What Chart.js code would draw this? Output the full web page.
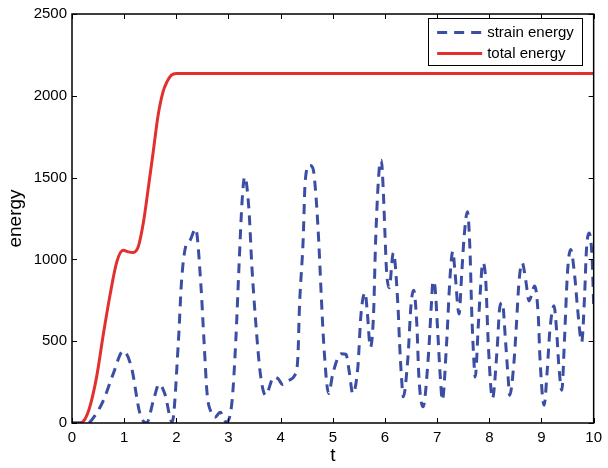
<!DOCTYPE html>
<html>
<head>
<meta charset="utf-8">
<script src="https://cdn.jsdelivr.net/npm/chart.js@4.4.1/dist/chart.umd.min.js"></script>
<style>
html,body{margin:0;padding:0;background:#fff;}
canvas{display:block;}
</style>
</head>
<body>
<canvas id="c" width="608" height="468"></canvas>
<script>
// ---- data ----
const strainT = [0,0.3,0.45,0.6,0.79,0.98,1.14,1.3,1.43,1.56,1.67,1.78,1.92,2.04,2.10,2.18,2.26,2.37,2.47,2.53,2.59,2.66,2.74,2.84,2.96,
  3.07,3.14,3.2,3.26,3.31,3.39,3.45,3.52,3.61,3.71,3.87,3.95,4.04,4.15,4.27,4.33,4.36,4.43,4.47,4.55,4.62,4.68,4.73,4.78,4.83,4.92,
  5.0,5.16,5.25,5.32,5.38,5.48,5.54,5.62,5.66,5.72,5.78,5.82,5.89,5.93,5.97,6.0,6.03,6.08,6.16,6.25,6.28,6.32,6.35,6.44,6.5,6.55,6.61,6.65,6.73,
  6.83,6.89,6.92,6.96,7.01,7.06,7.1,7.18,7.25,7.30,7.34,7.42,7.47,7.52,7.58,7.63,7.66,7.7,7.73,7.79,7.84,7.87,7.93,7.98,
  8.06,8.15,8.2,8.25,8.31,8.36,8.39,8.47,8.52,8.57,8.63,8.7,8.76,8.87,8.94,8.97,9.05,9.11,9.16,9.24,9.29,9.33,9.39,9.44,9.5,9.56,9.64,9.69,9.77,9.83,9.86,9.91,9.97,10.0];
const strainE = [0,0,50,137,300,440,340,60,0,137,238,178,5,500,868,1080,1115,1187,848,504,180,70,35,65,5,
  140,504,948,1353,1505,1313,948,625,302,170,281,271,235,260,291,402,706,1110,1475,1576,1556,1373,1110,766,463,180,
  302,423,420,302,180,342,666,797,680,463,660,1110,1556,1606,1400,1151,928,827,1040,706,485,261,160,402,726,811,605,281,99,
  402,730,868,827,564,281,140,484,908,1050,930,666,908,1151,1292,1050,706,402,281,605,868,979,880,484,
  150,453,706,736,504,280,170,362,605,868,979,868,746,837,645,402,109,322,564,716,564,362,200,504,928,1060,888,706,494,807,1050,1161,1009,720];

const totalT = [0,0.15,0.25,0.34,0.47,0.6,0.73,0.86,0.98,1.08,1.17,1.27,1.37,1.46,1.56,1.65,1.75,1.82,1.9,2.0,10];
const totalE = [0,0,25,97,279,541,784,986,1056,1046,1042,1077,1228,1430,1665,1880,2030,2085,2125,2137,2137];

const xTicks = [0,1,2,3,4,5,6,7,8,9,10];
const yTicks = [0,500,1000,1500,2000,2500];
const seriesNames = ['strain energy','total energy'];

const FONT = "'Liberation Sans', Arial, Helvetica, sans-serif";

const framePlugin = {
  id: 'frame',
  afterDraw(chart) {
    const {ctx, chartArea: {left, right, top, bottom}, scales: {x, y}} = chart;
    ctx.save();
    ctx.strokeStyle = '#000';
    ctx.lineWidth = 1.5;
    ctx.strokeRect(left, top, right - left, bottom - top);
    ctx.lineWidth = 1;
    ctx.beginPath();
    x.ticks.forEach(t => {
      const px = Math.round(x.getPixelForValue(t.value)) + 0.5;
      ctx.moveTo(px, bottom); ctx.lineTo(px, bottom - 5);
      ctx.moveTo(px, top); ctx.lineTo(px, top + 5);
    });
    y.ticks.forEach(t => {
      const py = Math.round(y.getPixelForValue(t.value)) + 0.5;
      ctx.moveTo(left, py); ctx.lineTo(left + 5, py);
      ctx.moveTo(right, py); ctx.lineTo(right - 5, py);
    });
    ctx.stroke();

    // legend box
    const bw = 154, bh = 47;
    const bx = right - 11.5 - bw, by = top + 4;
    ctx.fillStyle = '#fff';
    ctx.fillRect(bx, by, bw, bh);
    ctx.strokeStyle = '#000';
    ctx.lineWidth = 1;
    ctx.strokeRect(Math.round(bx) + 0.5, Math.round(by) + 0.5, bw, bh);
    chart.data.datasets.forEach((ds, i) => {
      const cy = by + 14.5 + i * 21;
      ctx.beginPath();
      ctx.strokeStyle = ds.borderColor;
      ctx.lineWidth = ds.borderWidth;
      ctx.setLineDash(ds.borderDash || []);
      ctx.moveTo(bx + 9, cy);
      ctx.lineTo(bx + 54, cy);
      ctx.stroke();
      ctx.setLineDash([]);
      ctx.fillStyle = '#000';
      ctx.font = '15px ' + FONT;
      ctx.textBaseline = 'middle';
      ctx.textAlign = 'left';
      ctx.fillText(ds.label, bx + 59, cy);
    });
    ctx.restore();
  }
};

new Chart(document.getElementById('c'), {
  type: 'line',
  data: {
    datasets: [
      {
        label: seriesNames[0],
        data: strainT.map((t, i) => ({x: t, y: strainE[i]})),
        borderColor: '#3b4ea3',
        borderWidth: 3,
        borderDash: [10, 7],
        pointRadius: 0,
        cubicInterpolationMode: 'monotone',
        fill: false
      },
      {
        label: seriesNames[1],
        data: totalT.map((t, i) => ({x: t, y: totalE[i]})),
        borderColor: '#e2302e',
        borderWidth: 3,
        pointRadius: 0,
        cubicInterpolationMode: 'monotone',
        fill: false
      }
    ]
  },
  options: {
    responsive: false,
    animation: false,
    events: [],
    layout: {padding: {top: 11, right: 14, left: 0, bottom: 0}},
    plugins: {legend: {display: false}, tooltip: {enabled: false}},
    scales: {
      x: {
        type: 'linear',
        min: 0, max: 10,
        afterBuildTicks: s => { s.ticks = xTicks.map(v => ({value: v})); },
        afterFit: s => { s.height = 45; },
        grid: {display: false, drawTicks: false},
        border: {display: false},
        ticks: {color: '#000', font: {family: FONT, size: 15}, padding: 6, maxRotation: 0, autoSkip: false,
                callback: v => String(v)},
        title: {display: true, text: 't', color: '#000', font: {family: FONT, size: 19}, padding: {top: 0, bottom: 1}}
      },
      y: {
        type: 'linear',
        min: 0, max: 2500,
        afterBuildTicks: s => { s.ticks = yTicks.map(v => ({value: v})); },
        afterFit: s => { s.width = 72; },
        grid: {display: false, drawTicks: false},
        border: {display: false},
        ticks: {color: '#000', font: {family: FONT, size: 15}, padding: 5, autoSkip: false,
                callback: v => String(v)},
        title: {display: true, text: 'energy', color: '#000', font: {family: FONT, size: 19}, padding: {top: 4, bottom: 0}}
      }
    }
  },
  plugins: [framePlugin]
});
</script>
</body>
</html>
